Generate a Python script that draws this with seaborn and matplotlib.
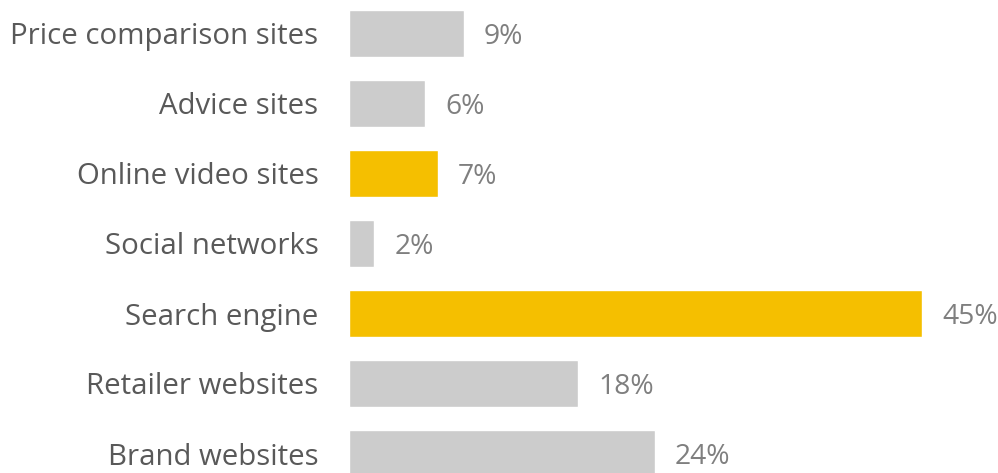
import matplotlib
matplotlib.use("Agg")
import matplotlib.pyplot as plt
import seaborn as sns
import pandas as pd

categories = ["Price comparison sites", "Advice sites", "Online video sites",
              "Social networks", "Search engine", "Retailer websites", "Brand websites"]
values = [9, 6, 7, 2, 45, 18, 24]
highlight = [False, False, True, False, True, False, False]

GRAY = "#cccccc"
YELLOW = "#f5bf00"
LABEL_COLOR = "#595959"
VALUE_COLOR = "#7f7f7f"

df = pd.DataFrame({"category": categories, "value": values})
palette = {c: (YELLOW if h else GRAY) for c, h in zip(categories, highlight)}

sns.set_theme(style="white")
plt.rcParams["font.family"] = ["Open Sans", "DejaVu Sans"]

W, H = 998, 473
fig = plt.figure(figsize=(W / 100, H / 100), dpi=100)
ax = fig.add_axes([349 / W, 0, 573 / W, 1])

sns.barplot(data=df, y="category", x="value", hue="category", palette=palette,
            order=categories, width=0.671, legend=False, ax=ax, saturation=1)

ax.set_xlim(0, 45)
ax.set_ylim((473 - 33.5) / 70, -33.5 / 70)
ax.set_xlabel("")
ax.set_ylabel("")
ax.set_xticks([])
ax.tick_params(axis="y", length=0, pad=22, labelsize=21.2, labelcolor=LABEL_COLOR)
for s in ax.spines.values():
    s.set_visible(False)

for i, v in enumerate(values):
    ax.annotate(f"{v}%", xy=(v, i), xytext=(14.4, 0), textcoords="offset points",
                ha="left", va="center_baseline", fontsize=20.3, color=VALUE_COLOR,
                annotation_clip=False)

fig.savefig("out.png", dpi=100)
